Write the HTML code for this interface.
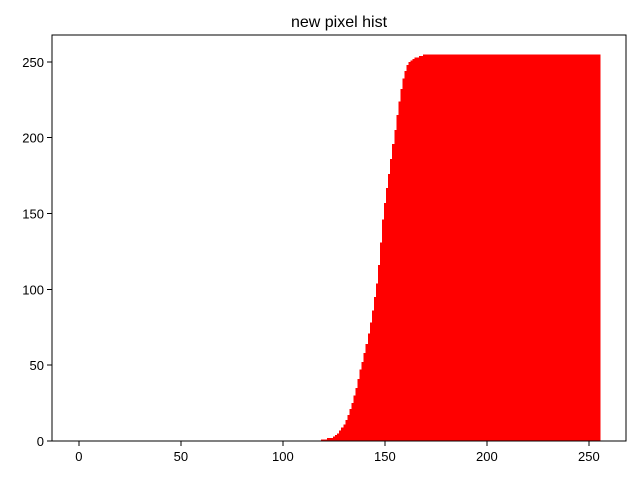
<!DOCTYPE html>
<html><head><meta charset="utf-8"><style>
body{margin:0;background:#fff}
text{font-family:"Liberation Sans","DejaVu Sans",sans-serif;fill:#000}
</style></head><body>
<svg id="chart" width="640" height="480">
<rect width="640" height="480" fill="#fff"/>
<g id="bars" shape-rendering="crispEdges"></g>
<g id="axes" shape-rendering="crispEdges"></g>
<text x="339" y="27" text-anchor="middle" font-size="16">new pixel hist</text>
</svg>
<script>
const startIndex = 118;
const rampValues = [0,1,1,1,2,2,2,3,4,5,7,9,11,14,17,21,25,30,35,41,47,52,58,64,71,78,86,95,104,116,131,146,157,167,176,186,196,205,215,224,232,239,244,248,250,251,252,253,253,254,254,255];
const xTicks = [0,50,100,150,200,250];
const yTicks = [0,50,100,150,200,250];
const values = [];
for (let i = 0; i < 256; i++) {
  if (i < startIndex) values.push(0);
  else if (i - startIndex < rampValues.length) values.push(rampValues[i - startIndex]);
  else values.push(255);
}
const L=52,R=626,T=35,B=441;
const xmin=-13.19,xmax=268.19,ymax=267.75;
const sx=v=>L+(v-xmin)/(xmax-xmin)*(R-L);
const sy=v=>B-v/ymax*(B-T);
const NS="http://www.w3.org/2000/svg";
const bars=document.getElementById('bars');
values.forEach((v,i)=>{
  if(v<=0)return;
  const r=document.createElementNS(NS,'rect');
  r.setAttribute('x',sx(i-0.4));r.setAttribute('width',sx(i+0.6)-sx(i-0.4));
  r.setAttribute('y',sy(v));r.setAttribute('height',B-sy(v));
  r.setAttribute('fill','#ff0000');
  
  
  bars.appendChild(r);
});
const ax=document.getElementById('axes');
const frame=document.createElementNS(NS,'rect');
frame.setAttribute('x',L);frame.setAttribute('y',T);frame.setAttribute('width',R-L);frame.setAttribute('height',B-T);
frame.setAttribute('fill','none');frame.setAttribute('stroke','#000');frame.setAttribute('stroke-width','1');


ax.appendChild(frame);
xTicks.forEach(t=>{
  const x=sx(t);
  const l=document.createElementNS(NS,'line');
  l.setAttribute('x1',x);l.setAttribute('x2',x);l.setAttribute('y1',B);l.setAttribute('y2',B+5);l.setAttribute('stroke','#000');
  
  
  ax.appendChild(l);
  const tx=document.createElementNS(NS,'text');
  tx.setAttribute('x',x);tx.setAttribute('y',B+20);tx.setAttribute('text-anchor','middle');tx.setAttribute('font-size','13');
  tx.textContent=t;
  
  
  ax.appendChild(tx);
});
yTicks.forEach(t=>{
  const y=sy(t);
  const l=document.createElementNS(NS,'line');
  l.setAttribute('x1',L-5);l.setAttribute('x2',L);l.setAttribute('y1',y);l.setAttribute('y2',y);l.setAttribute('stroke','#000');
  
  
  ax.appendChild(l);
  const tx=document.createElementNS(NS,'text');
  tx.setAttribute('x',L-8);tx.setAttribute('y',y+5);tx.setAttribute('text-anchor','end');tx.setAttribute('font-size','13');
  tx.textContent=t;
  
  
  ax.appendChild(tx);
});
</script>
</body></html>
